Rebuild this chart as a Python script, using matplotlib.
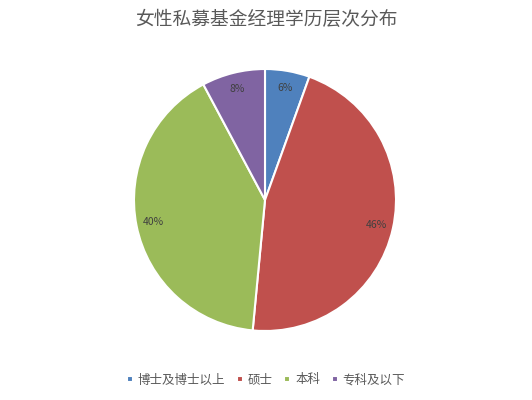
import matplotlib.pyplot as plt

plt.rcParams['font.family'] = ['Noto Sans CJK SC', 'DejaVu Sans']

# data
categories = ['博士及博士以上', '硕士', '本科', '专科及以下']
shares = [5.5, 46.0, 40.7, 7.8]
labels = ['6%', '46%', '40%', '8%']
colors = ['#4F81BD', '#C0504D', '#9BBB59', '#8064A2']

fig = plt.figure(figsize=(5.32, 4.0), dpi=100)
ax = fig.add_axes([134 / 532, 69 / 400, 262 / 532, 262 / 400])

wedges, texts = ax.pie(shares, labels=labels, colors=colors, startangle=90,
                       counterclock=False, labeldistance=0.87,
                       wedgeprops=dict(edgecolor='white', linewidth=1.5),
                       textprops=dict(fontsize=7.5, color='#404040'))
for t in texts:
    t.set_horizontalalignment('center')
    t.set_verticalalignment('center')
ax.set_xlim(-1.0, 1.0)
ax.set_ylim(-1.0, 1.0)
ax.set_aspect('equal')

fig.text(0.5, 1 - 19 / 400, '女性私募基金经理学历层次分布', ha='center', va='center',
         fontsize=13.5, color='#595959')

leg = fig.legend(wedges, categories, loc='center', bbox_to_anchor=(266 / 532, 1 - 380 / 400),
                 ncol=4, frameon=False, fontsize=9, handlelength=0.45, handleheight=0.45,
                 handletextpad=0.4, columnspacing=0.95, labelcolor='#595959')

fig.savefig('out.png', dpi=100)
